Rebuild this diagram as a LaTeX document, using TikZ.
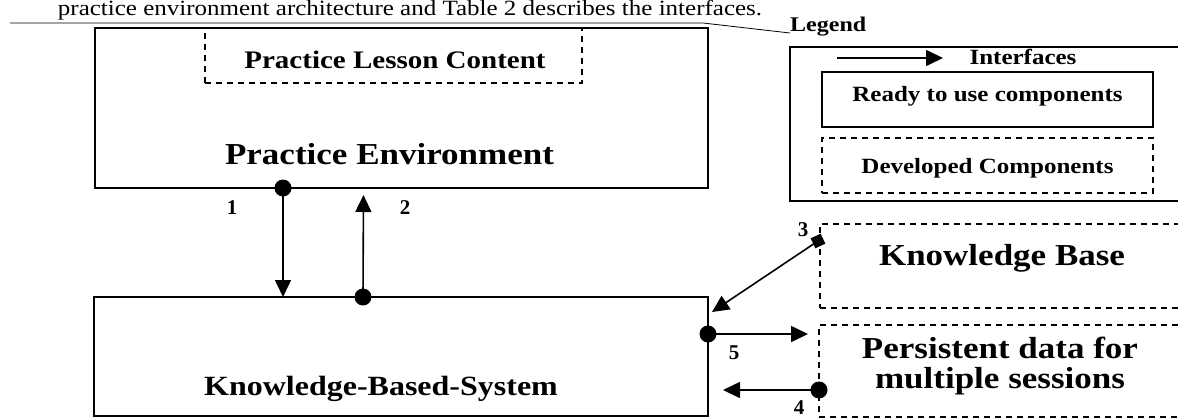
\documentclass[tikz,border=0pt]{standalone}
\usepackage{fontspec}
\setmainfont{Liberation Serif}
\usetikzlibrary{arrows.meta}
\newcommand{\vsq}[1]{\scalebox{1}[0.87]{#1}}
\begin{document}
\begin{tikzpicture}[x=1pt,y=-1pt,
  box/.style={draw, line width=2pt, inner sep=0pt, outer sep=0pt},
  dbox/.style={draw, line width=1.5pt, dash pattern=on 6pt off 5pt, inner sep=0pt, outer sep=0pt},
  conn/.style={line width=1.6pt, -{Triangle[length=17pt,width=16pt]}},
  dot/.style={circle, fill, inner sep=0pt, minimum size=17pt},
  sq/.style={rectangle, fill, inner sep=0pt, minimum size=11pt, rotate=25},
  lbl/.style={font=\fontsize{21pt}{21pt}\selectfont\bfseries, inner sep=0pt},
  big/.style={font=\fontsize{35pt}{35pt}\selectfont\bfseries, inner sep=0pt, anchor=base},
  small/.style={font=\fontsize{25pt}{25pt}\selectfont\bfseries, inner sep=0pt, anchor=base}]
\useasboundingbox (0,0) rectangle (1178,418);
\clip (0,0) rectangle (1178,418);

% caption fragment and rule
\node[font=\fontsize{25pt}{25pt}\selectfont, inner sep=0pt, anchor=base] (cap) at (410,15)
  {\vsq{practice environment architecture and Table 2 describes the interfaces.}};
\draw[line width=0.8pt] (10,23) -- (703,23) -- (790,33);

% main boxes
\node[box, minimum width=613pt, minimum height=160pt] (PE) at (401.5,108) {};
\node[dbox, minimum width=377pt, minimum height=55pt] (PLC) at (393.5,55.5) {};
\node[font=\fontsize{29pt}{29pt}\selectfont\bfseries, inner sep=0pt, anchor=base] (tPLC) at (395,68) {\vsq{Practice Lesson Content}};
\node[big] (tPE) at (389.5,164) {\vsq{Practice Environment}};

\node[box, minimum width=614pt, minimum height=119pt] (KBS) at (401,356.5) {};
\node[font=\fontsize{32pt}{32pt}\selectfont\bfseries, inner sep=0pt, anchor=base] (tKBS) at (381,395) {\vsq{Knowledge-Based-System}};

\node[dbox, minimum width=380pt, minimum height=84pt] (KB) at (1010,266) {};
\node[big] (tKB) at (1002,265) {\vsq{Knowledge Base}};

\node[dbox, minimum width=381pt, minimum height=92pt] (PD) at (1009.5,371) {};
\node[big] (tPD1) at (1000,358) {\vsq{Persistent data for}};
\node[big] (tPD2) at (1000,388) {\vsq{multiple sessions}};

% legend
\node[font=\fontsize{24pt}{24pt}\selectfont\bfseries, inner sep=0pt, anchor=base west] (tLG) at (790,31) {\vsq{Legend}};
\node[box, minimum width=410pt, minimum height=154pt] (LG) at (995,124) {};
\coordinate (la) at (837,58);
\coordinate (lb) at (943,58);
\draw[conn] (la) -- (lb);
\node[small] (tIF) at (1023,64) {\vsq{Interfaces}};
\node[box, minimum width=331pt, minimum height=55pt] (RU) at (987.5,99.5) {};
\node[small] (tRU) at (987.5,101) {\vsq{Ready to use components}};
\node[dbox, minimum width=331pt, minimum height=55pt] (DC) at (987.5,165.5) {};
\node[small] (tDC) at (987.5,173) {\vsq{Developed Components}};

% interface 1
\node[dot] (d1) at ([xshift=-118.5pt]PE.south) {};
\draw[conn] (d1.center) -- ([xshift=-118pt]KBS.north);
\node[lbl] (l1) at (232,208) {1};

% interface 2
\node[dot] (d2) at ([xshift=-38pt]KBS.north) {};
\draw[conn, shorten >=7pt] (d2.center) -- ([xshift=-38pt]PE.south);
\node[lbl] (l2) at (405,208) {2};

% interface 3
\node[sq] (s3) at ([xshift=-2pt,yshift=25pt]KB.west) {};
\draw[conn] (s3.center) -- ([xshift=4pt,yshift=44.5pt]KBS.east);
\node[lbl] (l3) at (803,230) {3};

% interface 5
\node[dot] (d5) at ([yshift=22.5pt]KBS.east) {};
\draw[conn, shorten >=11pt] (d5.center) -- ([yshift=37pt]PD.west);
\node[lbl] (l5) at (734,353) {5};

% interface 4
\node[dot] (d4) at ([yshift=-19pt]PD.west) {};
\draw[conn, shorten >=15pt] (d4.center) -- ([yshift=-33.5pt]KBS.east);
\node[lbl] (l4) at (799,408) {4};
\end{tikzpicture}
\end{document}
